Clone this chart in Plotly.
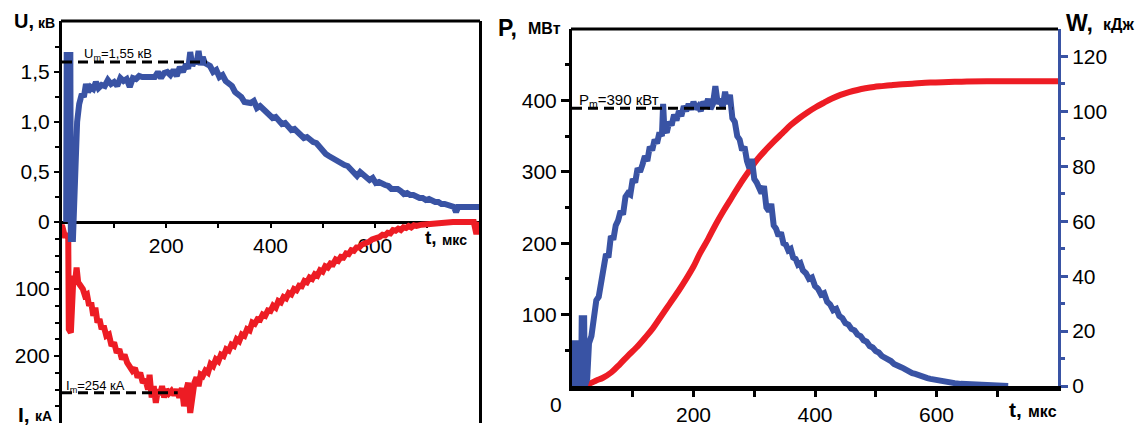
import plotly.graph_objects as go

W_FIG, H_FIG = 1142, 426
BLUE = "rgb(57, 83, 164)"
RED = "rgb(237, 28, 36)"
FONT = "Liberation Sans, Arial, sans-serif"

# ---- left panel: voltage U (kV) and current I (kA) ----
t_U = [8, 9, 16, 17, 21, 25, 29, 33, 38, 42, 46, 50, 55, 60, 65, 70, 76, 82, 88, 94,
       100, 106, 112, 118, 124, 130, 136, 142, 148, 154, 160, 166, 172, 178, 184, 190,
       196, 202, 208, 214, 220, 226, 232, 238, 242, 246, 250, 254, 258, 262, 266, 270,
       274, 278, 284, 290, 296, 302, 308, 314, 320, 326, 332, 338, 344, 350, 356, 362,
       368, 374, 380, 386, 392, 398, 404, 410, 416, 422, 428, 434, 440, 446, 452, 458,
       464, 470, 476, 482, 488, 494, 500, 506, 512, 518, 524, 530, 536, 542, 548, 554,
       560, 566, 572, 578, 584, 590, 596, 602, 608, 614, 620, 626, 632, 638, 644, 650,
       656, 662, 668, 674, 680, 686, 692, 698, 704, 710, 716, 722, 728, 734, 740, 746,
       752, 756, 760, 770, 780, 790, 800]
U_kV = [0.0, 1.67, 1.67, -0.17, -0.17, 0.55, 1.0, 1.18, 1.28, 1.25, 1.38, 1.30, 1.35, 1.33,
        1.40, 1.34, 1.37, 1.36, 1.42, 1.38, 1.40, 1.36, 1.44, 1.41, 1.43, 1.35, 1.44, 1.43,
        1.46, 1.45, 1.45, 1.45, 1.46, 1.45, 1.50, 1.44, 1.49, 1.50, 1.47, 1.52, 1.46, 1.55,
        1.50, 1.58, 1.53, 1.70, 1.56, 1.62, 1.58, 1.71, 1.57, 1.65, 1.59, 1.58, 1.56, 1.50,
        1.52, 1.45, 1.47, 1.41, 1.39, 1.36, 1.30, 1.28, 1.25, 1.20, 1.20, 1.19, 1.21, 1.14,
        1.16, 1.12, 1.10, 1.07, 1.04, 1.05, 1.01, 0.98, 0.99, 0.95, 0.92, 0.93, 0.90, 0.86,
        0.84, 0.85, 0.82, 0.80, 0.79, 0.75, 0.72, 0.68, 0.66, 0.64, 0.63, 0.60, 0.59, 0.57,
        0.56, 0.52, 0.48, 0.46, 0.50, 0.47, 0.45, 0.42, 0.44, 0.39, 0.40, 0.38, 0.37, 0.36,
        0.33, 0.33, 0.33, 0.31, 0.28, 0.29, 0.27, 0.27, 0.25, 0.24, 0.24, 0.22, 0.23, 0.21,
        0.20, 0.20, 0.18, 0.18, 0.17, 0.17, 0.15, 0.10, 0.15, 0.15, 0.15, 0.15, 0.15]

t_I = [-5, 0, 5, 10, 12, 13, 17, 19, 22, 25, 28, 31, 35, 40, 44, 48, 52, 56, 60, 64, 68,
       72, 76, 80, 85, 90, 95, 100, 105, 110, 115, 120, 125, 130, 135, 140, 145, 150, 155,
       160, 165, 168, 172, 176, 180, 184, 188, 192, 196, 200, 205, 210, 215, 220, 225, 230,
       234, 238, 242, 246, 250, 254, 258, 262, 266, 270, 275, 280, 285, 290, 295, 300, 305,
       310, 315, 320, 325, 330, 335, 340, 345, 350, 355, 360, 365, 370, 375, 380, 385, 390,
       395, 400, 405, 410, 415, 420, 425, 430, 435, 440, 445, 450, 455, 460, 465, 470, 475,
       480, 485, 490, 495, 500, 505, 510, 515, 520, 525, 530, 535, 540, 545, 550, 555, 560,
       565, 570, 575, 580, 585, 590, 595, 600, 605, 610, 615, 620, 625, 630, 635, 640, 645,
       650, 655, 660, 665, 670, 675, 680, 690, 700, 710, 720, 730, 740, 750, 760, 770, 780,
       790, 795, 800]
I_kA = [10, 5, 20, 20, 25, 160, 165, 120, 80, 90, 68, 90, 95, 100, 110, 108, 125, 120, 140,
        128, 150, 145, 160, 155, 170, 168, 185, 180, 195, 190, 205, 198, 210, 215, 222, 218,
        232, 225, 240, 235, 250, 228, 262, 245, 270, 250, 258, 245, 262, 250, 256, 252, 258,
        250, 262, 248, 275, 252, 240, 285, 258, 240, 232, 245, 228, 230, 222, 225, 212, 215,
        205, 208, 198, 200, 190, 192, 183, 185, 175, 178, 168, 170, 160, 162, 150, 152, 145,
        146, 138, 140, 132, 133, 125, 128, 118, 120, 112, 114, 106, 108, 100, 102, 95, 96,
        88, 90, 83, 85, 78, 80, 72, 74, 66, 68, 62, 63, 56, 58, 52, 53, 47, 48, 42, 43, 38,
        38, 34, 33, 30, 29, 26, 25, 22, 22, 19, 20, 16, 17, 12, 13, 10, 12, 8, 9, 6, 8, 5,
        6, 4, 3, 2, 1, 0, 0, 0, 0, 0, 0, 0, 18, 0]

U_m, t_Um_end = 1.6, 278
I_m, t_Im_end = 255, 222

# ---- right panel: power P (MW) and energy W (kJ) ----
t_P = [0, 2, 6, 7, 9, 10, 14, 15, 16, 20, 21, 25, 28, 32, 36, 40, 44, 48, 52, 56, 60, 64,
       68, 72, 76, 80, 84, 88, 92, 96, 100, 104, 108, 112, 116, 120, 124, 128, 132, 136,
       140, 144, 148, 150, 152, 156, 160, 164, 168, 172, 176, 180, 184, 188, 192, 196, 200,
       204, 208, 212, 216, 220, 224, 228, 232, 236, 240, 244, 248, 252, 256, 260, 264, 268,
       272, 276, 280, 284, 288, 292, 296, 300, 304, 308, 312, 316, 320, 324, 328, 332, 336,
       340, 344, 348, 352, 356, 360, 364, 368, 372, 376, 380, 385, 390, 395, 400, 405, 410,
       415, 420, 425, 430, 435, 440, 445, 450, 455, 460, 465, 470, 475, 480, 485, 490, 495,
       500, 505, 510, 515, 520, 525, 530, 535, 540, 545, 550, 555, 560, 565, 570, 575, 580,
       585, 590, 595, 600, 610, 620, 630, 640, 650, 660, 670, 680, 690, 700, 710, 718]
P_MW = [0, 60, 60, 0, 0, 60, 60, 0, 95, 95, 0, 10, 60, 70, 100, 120, 125, 150, 160, 185,
        180, 210, 205, 225, 232, 245, 240, 265, 270, 268, 290, 285, 305, 300, 310, 322, 315,
        335, 330, 345, 340, 355, 350, 395, 360, 355, 370, 365, 380, 372, 385, 378, 392, 385,
        395, 387, 398, 388, 392, 385, 398, 392, 402, 388, 395, 420, 395, 402, 390, 412, 395,
        408, 375, 370, 350, 345, 330, 335, 315, 305, 318, 290, 285, 275, 270, 280, 250, 245,
        255, 225, 220, 210, 215, 200, 198, 190, 192, 180, 178, 170, 172, 162, 158, 150, 152,
        140, 136, 128, 130, 118, 114, 106, 108, 98, 95, 88, 86, 80, 78, 72, 70, 64, 62, 56,
        54, 49, 47, 42, 40, 36, 35, 31, 30, 27, 25, 22, 21, 18, 17, 15, 14, 12, 11, 10, 9,
        8, 6, 5, 4, 3, 2.5, 2, 1.5, 1, 0.8, 0.5, 0.3, 0]

t_W = [5, 20, 30, 40, 51, 65, 79, 92, 106, 120, 133, 147, 161, 175, 188, 200, 210, 224,
       237, 250, 264, 278, 292, 305, 319, 332, 346, 360, 374, 388, 401, 415, 428, 442, 456,
       470, 483, 497, 510, 524, 538, 560, 590, 620, 650, 700, 750, 800]
W_kJ = [0, 0.5, 1, 2, 3, 5, 8, 11, 14, 17.5, 21, 25.5, 30, 34.5, 39, 43.5, 48, 53.5, 59,
        64, 69, 74, 78.5, 82.5, 86, 89, 92, 95, 97.5, 99.7, 101.5, 103.2, 104.7, 106, 107,
        107.8, 108.4, 108.9, 109.2, 109.5, 109.8, 110.1, 110.5, 110.7, 110.9, 111, 111, 111]

P_m, t_Pm_end = 389, 264


def px(x):
    return x / W_FIG


def py(y):
    return 1 - y / H_FIG


fig = go.Figure()

# left panel
fig.add_trace(go.Scatter(x=t_I, y=I_kA, xaxis="x", yaxis="y", mode="lines",
                         line=dict(color=RED, width=6)))
fig.add_trace(go.Scatter(x=[0, t_Im_end], y=[I_m, I_m], xaxis="x", yaxis="y", mode="lines",
                         line=dict(color="black", width=3, dash="10px,6px")))
fig.add_trace(go.Scatter(x=t_U, y=U_kV, xaxis="x", yaxis="y2", mode="lines",
                         line=dict(color=BLUE, width=6)))
fig.add_trace(go.Scatter(x=[0, t_Um_end], y=[U_m, U_m], xaxis="x", yaxis="y2", mode="lines",
                         line=dict(color="black", width=3, dash="10px,6px")))

# right panel
fig.add_trace(go.Scatter(x=t_W, y=W_kJ, xaxis="x2", yaxis="y3", mode="lines",
                         line=dict(color=RED, width=6, shape="spline")))
fig.add_trace(go.Scatter(x=t_P, y=P_MW, xaxis="x2", yaxis="y4", mode="lines",
                         line=dict(color=BLUE, width=6)))
fig.add_trace(go.Scatter(x=[0, t_Pm_end], y=[P_m, P_m], xaxis="x2", yaxis="y4", mode="lines",
                         line=dict(color="black", width=3, dash="10px,6px")))

tick_font = dict(family=FONT, size=21, color="black")
t_major = [200, 400, 600]
t_minor = [100, 300, 500, 700]

fig.update_layout(
    width=W_FIG, height=H_FIG,
    margin=dict(l=0, r=0, t=0, b=0, autoexpand=False),
    paper_bgcolor="white", plot_bgcolor="white",
    showlegend=False,
    font=dict(family=FONT, color="black"),
    xaxis=dict(domain=[px(62), px(479)], range=[0, 800], anchor="free", position=py(222),
               showline=True, linecolor="black", linewidth=3, layer="below traces",
               ticks="outside", ticklen=4, tickwidth=2, tickcolor="black",
               tickmode="array", tickvals=t_major, tickfont=tick_font,
               minor=dict(tickmode="array", tickvals=t_minor,
                          ticks="outside", ticklen=4, tickwidth=2, tickcolor="black"),
               showgrid=False, zeroline=False, automargin=False),
    yaxis=dict(domain=[py(423), py(21)], range=[300, -300], anchor="x", side="left",
               showline=True, linecolor="black", linewidth=3, mirror=True,
               ticks="outside", ticklen=5, tickwidth=2, tickcolor="black",
               tickmode="array", tickvals=[100, 200], tickfont=tick_font,
               minor=dict(tickmode="array", tickvals=[25, 50, 75, 125, 150, 175, 225, 250, 275],
                          ticks="outside", ticklen=4, tickwidth=2, tickcolor="black"),
               showgrid=False, zeroline=False, automargin=False),
    yaxis2=dict(overlaying="y", range=[-2.01, 2.01], anchor="x", side="left",
                showline=True, linecolor="black", linewidth=3,
                ticks="outside", ticklen=5, tickwidth=2, tickcolor="black",
                tickmode="array", tickvals=[0, 0.5, 1.0, 1.5],
                ticktext=["0", "0,5", "1,0", "1,5"], tickfont=tick_font,
                minor=dict(tickmode="array", tickvals=[0.25, 0.75, 1.25, 1.75],
                           ticks="outside", ticklen=4, tickwidth=2, tickcolor="black"),
                showgrid=False, zeroline=False, automargin=False),
    xaxis2=dict(domain=[px(572), px(1058)], range=[0, 800], anchor="y3",
                showline=True, linecolor="black", linewidth=5, layer="below traces",
                ticks="outside", ticklen=6, tickwidth=3, tickcolor="black",
                tickmode="array", tickvals=t_major, tickfont=tick_font,
                minor=dict(tickmode="array", tickvals=t_minor,
                           ticks="outside", ticklen=6, tickwidth=3, tickcolor="black"),
                showgrid=False, zeroline=False, automargin=False),
    yaxis3=dict(domain=[py(386), py(29)], range=[0, 130], anchor="x2", side="right",
                showline=True, linecolor=BLUE, linewidth=3,
                ticks="outside", ticklen=7, tickwidth=3, tickcolor=BLUE,
                tickmode="array", tickvals=[0, 20, 40, 60, 80, 100, 120], tickfont=tick_font,
                minor=dict(tickmode="array", tickvals=[10, 30, 50, 70, 90, 110],
                           ticks="outside", ticklen=4, tickwidth=3, tickcolor=BLUE),
                showgrid=False, zeroline=False, automargin=False),
    yaxis4=dict(overlaying="y3", range=[0, 500], anchor="x2", side="left",
                showline=True, linecolor="black", linewidth=3,
                ticks="outside", ticklen=8, tickwidth=3, tickcolor="black",
                tickmode="array", tickvals=[100, 200, 300, 400], tickfont=tick_font,
                minor=dict(tickmode="array", tickvals=[50, 150, 250, 350, 450],
                           ticks="outside", ticklen=4, tickwidth=3, tickcolor="black"),
                showgrid=False, zeroline=False, automargin=False),
)

# frame lines on top of the panels
fig.add_shape(type="line", xref="paper", yref="paper", x0=px(61), x1=px(480),
              y0=py(21), y1=py(21), line=dict(color="black", width=3))
fig.add_shape(type="line", xref="paper", yref="paper", x0=px(571), x1=px(1058),
              y0=py(29), y1=py(29), line=dict(color="black", width=3))


def label(text, x, y, size, bold=False, xanchor="left"):
    if bold:
        text = "<b>" + text + "</b>"
    fig.add_annotation(text=text, xref="paper", yref="paper", x=px(x), y=py(y),
                       xanchor=xanchor, yanchor="middle", showarrow=False,
                       font=dict(family=FONT, size=size, color="black"))


# axis titles: big symbol plus smaller unit
label("U,", 12, 21, 20, bold=True)
label("кВ", 36, 23, 14, bold=True)
label("I,", 16, 414, 21, bold=True)
label("кА", 33, 416, 14, bold=True)
label("t,", 423, 238, 19, bold=True)
label("мкс", 440, 240, 14, bold=True)
label("P,", 496, 28, 23, bold=True)
label("МВт", 526, 29, 16, bold=True)
label("W,", 1064, 23, 23, bold=True)
label("кДж", 1101, 24, 16, bold=True)
label("t,", 1007, 409, 21, bold=True)
label("мкс", 1026, 411, 16, bold=True)
label("0", 556, 404, 21, xanchor="center")
label("U<sub>m</sub>=1,55 кВ", 82, 54, 13)
label("I<sub>m</sub>=254 кА", 64, 386, 13)
label("P<sub>m</sub>=390 кВт", 577, 100, 15)

fig.write_html("out.html", config={"displayModeBar": False},
               post_script="document.body.style.margin='0px';")
